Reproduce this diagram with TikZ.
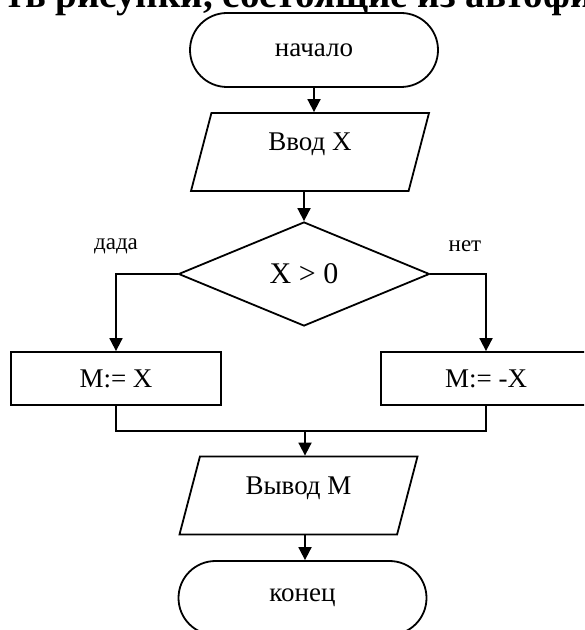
\documentclass[tikz,border=0pt]{standalone}
\usepackage{fontspec}
\setmainfont{Liberation Serif}
\usepackage{tikz}
\usetikzlibrary{arrows.meta, positioning, shapes.geometric, calc}

\begin{document}
\begin{tikzpicture}[
  x=0.5pt, y=-0.5pt, line width=0.9pt,
  term/.style={draw, rounded corners=18.5pt, minimum width=124pt, minimum height=37pt,
    font=\fontsize{13.5}{16}\selectfont},
  io/.style={draw, trapezium, trapezium left angle=59, trapezium right angle=121,
    trapezium stretches body, minimum width=119pt, minimum height=39pt, inner sep=0pt,
    text height=8pt, text depth=9pt, font=\fontsize{13.5}{16}\selectfont},
  cond/.style={draw, diamond, minimum width=125.5pt, minimum height=52pt, inner sep=0pt,
    font=\fontsize{15}{18}\selectfont},
  proc/.style={draw, rectangle, minimum width=105pt, minimum height=26.5pt,
    font=\fontsize{13.5}{16}\selectfont},
  lbl/.style={font=\fontsize{11.5}{14}\selectfont},
  arr/.style={-{Triangle[length=6.5pt, width=6.5pt]}},
]
  \useasboundingbox (0,0) rectangle (584,630);
  \clip (0,0) rectangle (584,630);

  \node[anchor=base west, font=\bfseries\fontsize{19.5}{22}\selectfont, inner sep=0pt]
    (hdr) at (5,8) {ть рисунки, состоящие из автофи};

  \node[term] (start) at (314,50) {начало};
  \node[io] (inp) at (310,152) {Ввод X};
  \node[cond] (dia) at (304,274) {X > 0};
  \node[proc] (left) at (116,378.5) {M:= X};
  \node[proc] (right) at (486,378.5) {M:= -X};
  \coordinate (mrg) at (305,431);
  \node[io] (out) at (298.5,495.5) {Вывод M};
  \node[term] (end) at (302.5,598) {конец};

  \draw[arr] (start.south) -- (start.south |- inp.north);
  \draw[arr] (dia.north |- inp.south) -- (dia.north);
  \draw[arr] (dia.west) -| (left.north) node[lbl, pos=0.5, yshift=14pt] {дада};
  \draw[arr] (dia.east) -| (right.north) node[lbl, pos=0.5, xshift=-10.5pt, yshift=14pt] {нет};
  \draw (left.south) |- (right.south |- mrg) -- (right.south);
  \draw[arr] (mrg) -- (mrg |- out.north);
  \draw[arr] (mrg |- out.south) -- (mrg |- end.north);
\end{tikzpicture}
\end{document}
